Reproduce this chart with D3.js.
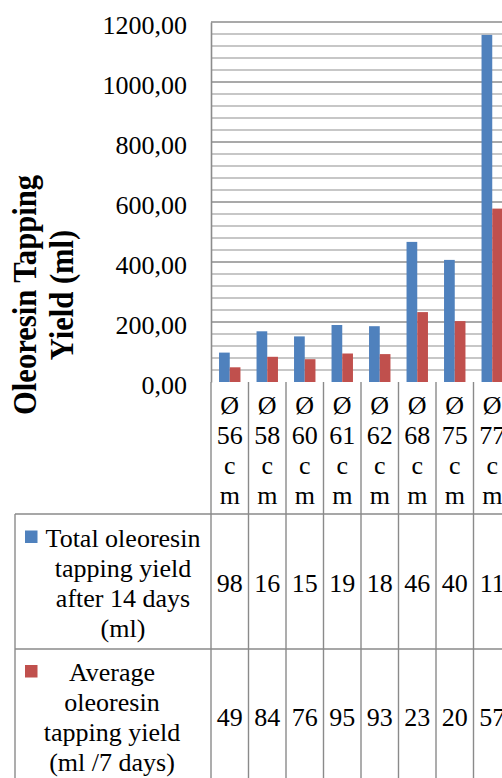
<!DOCTYPE html>
<html>
<head>
<meta charset="utf-8">
<script src="https://cdn.jsdelivr.net/npm/d3@7"></script>
<style>
  html, body { margin: 0; padding: 0; background: #fff; overflow: hidden; }
  svg { display: block; }
  text { font-family: "Liberation Serif", "Times New Roman", serif; fill: #000; }
</style>
</head>
<body>
<script>
// Trunk diameter classes (one column per tree)
const categories = ["Ø 56 cm", "Ø 58 cm", "Ø 60 cm", "Ø 61 cm", "Ø 62 cm", "Ø 68 cm", "Ø 75 cm", "Ø 77 cm"];
// Total oleoresin tapping yield after 14 days (ml)
const totalYield = [98, 169, 152, 190, 186, 467, 407, 1157];
// Average oleoresin tapping yield (ml / 7 days)
const averageYield = [49, 84, 76, 95, 93, 233, 203, 578];
const seriesNames = [
  ["Total oleoresin", "tapping yield", "after 14 days", "(ml)"],
  ["Average", "oleoresin", "tapping yield", "(ml /7 days)"]
];
const yTicks = [0, 200, 400, 600, 800, 1000, 1200];
const axisTitle = ["Oleoresin Tapping", "Yield (ml)"];

const W = 502, H = 778;
const colors = ["#4F81BD", "#C0504D"];
const plot = { left: 211, top: 22, bottom: 382, colW: 37.5 };
const rows = [
  { top: 382, bottom: 514 },   // category header row
  { top: 514, bottom: 649 },   // total series row
  { top: 649, bottom: 783 }    // average series row
];
const legendTextX = [123, 112];
const tableLeft = 15;
const gridColor = "#b5b5b5", majorColor = "#8c8c8c", lineColor = "#8a8a8a";
const fontSize = 26, lineH = 30, cellTextW = 30;

const svg = d3.select("body").append("svg").attr("width", W).attr("height", H);

const x = d3.scaleBand()
  .domain(categories)
  .range([plot.left, plot.left + plot.colW * categories.length])
  .paddingInner(0).paddingOuter(0);
const y = d3.scaleLinear().domain([0, 1200]).range([plot.bottom, plot.top]);
// Excel-style clustering: gap = 150% of one bar width
const barW = x.bandwidth() / 3.5;
const xs = d3.scaleBand().domain([0, 1]).range([barW * 0.75, barW * 2.75]).padding(0);

// Gridlines: minor every 40, major every 200
const minor = d3.range(40, 1200, 40).filter(v => v % 200 !== 0);
const plotRight = x.range()[1];
svg.append("g").selectAll("line").data(minor).join("line")
  .attr("x1", plot.left).attr("x2", plotRight)
  .attr("y1", d => y(d)).attr("y2", d => y(d))
  .attr("stroke", gridColor).attr("stroke-width", 1.4);
svg.append("g").selectAll("line").data(yTicks.filter(v => v > 0)).join("line")
  .attr("x1", plot.left).attr("x2", plotRight)
  .attr("y1", d => y(d)).attr("y2", d => y(d))
  .attr("stroke", majorColor).attr("stroke-width", 1.4);

// Bars
const series = [totalYield, averageYield];
series.forEach((vals, si) => {
  svg.append("g").selectAll("rect").data(vals).join("rect")
    .attr("x", (d, i) => x(categories[i]) + xs(si))
    .attr("width", xs.bandwidth())
    .attr("y", d => y(d))
    .attr("height", d => y(0) - y(d))
    .attr("fill", colors[si]);
});

// Value axis
const yAxis = d3.axisLeft(y).tickValues(yTicks).tickSize(0).tickPadding(0)
  .tickFormat(d => d3.format(".2f")(d).replace(".", ","));
const ag = svg.append("g").attr("transform", `translate(${plot.left},0)`).call(yAxis);
ag.select(".domain").attr("stroke", majorColor).attr("stroke-width", 1.6);
ag.selectAll(".tick text")
  .attr("x", -24).attr("dy", null).attr("y", 11)
  .attr("font-size", fontSize).attr("font-family", "Liberation Serif").attr("fill", "#000");

// Axis title (rotated, two lines)
const tg = svg.append("g").attr("transform", "translate(36,295) rotate(-90) scale(0.9,1)");
axisTitle.forEach((t, i) => {
  tg.append("text").attr("x", 0).attr("y", i * 37)
    .attr("text-anchor", "middle").attr("font-size", 34).attr("font-weight", "bold").text(t);
});

// Text wrapping inside narrow table cells
const ctx = document.createElement("canvas").getContext("2d");
ctx.font = `${fontSize}px "Liberation Serif"`;
function wrap(str, maxW) {
  const out = [];
  str.split(" ").forEach(word => {
    const last = out.length ? out[out.length - 1] : null;
    if (last !== null && ctx.measureText(last + " " + word).width <= maxW) {
      out[out.length - 1] = last + " " + word;
    } else if (ctx.measureText(word).width <= maxW) {
      out.push(word);
    } else {
      let cur = "";
      for (const ch of word) {
        if (cur && ctx.measureText(cur + ch).width > maxW) { out.push(cur); cur = ch; }
        else cur += ch;
      }
      if (cur) out.push(cur);
    }
  });
  return out;
}
function linesAt(g, lines, cx, cy) {
  const t = g.append("text").attr("text-anchor", "middle").attr("font-size", fontSize);
  lines.forEach((l, i) => {
    t.append("tspan").attr("x", cx)
      .attr("y", cy - (lines.length - 1) * lineH / 2 + i * lineH + 10)
      .text(l);
  });
}

// Data table grid
const tbl = svg.append("g").attr("stroke", lineColor).attr("stroke-width", 1.4);
const bounds = categories.map(c => x(c)).concat([plotRight]);
tbl.selectAll("line.v").data(bounds).join("line")
  .attr("x1", d => d).attr("x2", d => d)
  .attr("y1", rows[0].top).attr("y2", H);
tbl.append("line").attr("x1", tableLeft).attr("x2", tableLeft).attr("y1", rows[1].top).attr("y2", H);
[rows[1].top, rows[2].top, rows[2].bottom].forEach(yy => {
  tbl.append("line").attr("x1", tableLeft).attr("x2", plotRight).attr("y1", yy).attr("y2", yy);
});

const tt = svg.append("g");
// Category header
categories.forEach(c => {
  linesAt(tt, wrap(c, cellTextW), x(c) + x.bandwidth() / 2, (rows[0].top + rows[0].bottom) / 2 + 1);
});
// Series rows: legend key, name and values clipped to one line per cell
const fmt = v => d3.format(".2f")(v).replace(".", ",");
series.forEach((vals, si) => {
  const r = rows[si + 1];
  const cy = (r.top + r.bottom) / 2;
  const names = seriesNames[si];
  const firstBase = cy - (names.length - 1) * lineH / 2 + 10;
  tt.append("rect").attr("x", 25).attr("y", firstBase - 16).attr("width", 12.5).attr("height", 12.5)
    .attr("fill", colors[si]);
  linesAt(tt, names, legendTextX[si], cy);
  vals.forEach((v, i) => {
    const first = wrap(fmt(v), cellTextW)[0];
    linesAt(tt, [first], x(categories[i]) + x.bandwidth() / 2, cy);
  });
});
</script>
</body>
</html>
